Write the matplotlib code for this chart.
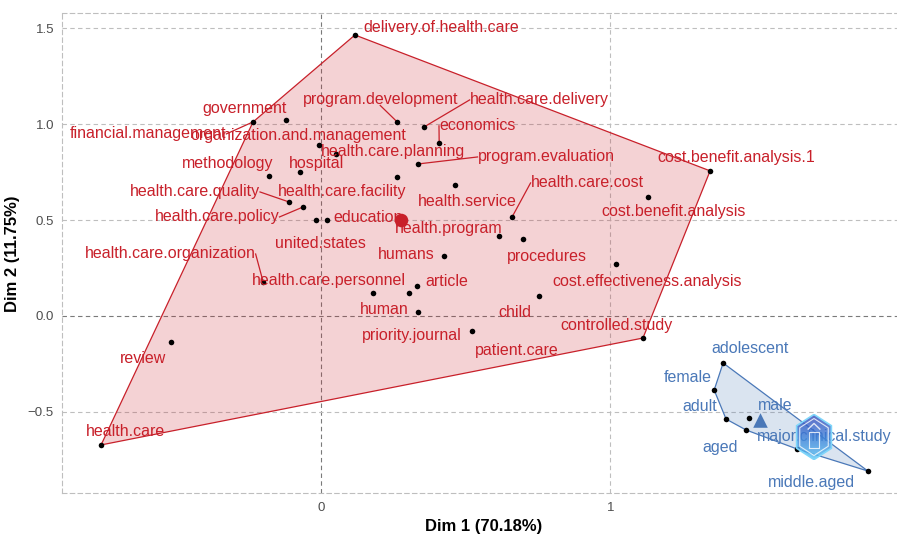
import numpy as np
import matplotlib
matplotlib.use("Agg")
import matplotlib.pyplot as plt
from matplotlib.patches import Polygon
from matplotlib.lines import Line2D
from matplotlib.colors import LinearSegmentedColormap

plt.rcParams['font.family'] = ['Liberation Sans', 'DejaVu Sans']

# ---- data: MCA word map, two clusters ----
red_words = [
    "delivery.of.health.care", "financial.management", "government",
    "organization.and.management", "health.care.planning", "program.development",
    "health.care.delivery", "economics", "program.evaluation", "methodology",
    "hospital", "health.care.facility", "health.service", "health.care.quality",
    "health.care.policy", "united.states", "education", "humans",
    "health.care.organization", "health.care.personnel", "article", "human",
    "priority.journal", "patient.care", "child", "health.care.cost",
    "health.program", "procedures", "cost.effectiveness.analysis",
    "cost.benefit.analysis", "cost.benefit.analysis.1", "controlled.study",
    "review", "health.care",
]
red_x = [0.118, -0.234, -0.120, -0.006, 0.053, 0.264, 0.357, 0.409, 0.336, -0.179,
         -0.072, 0.264, 0.465, -0.110, -0.061, -0.016, 0.022, 0.426,
         -0.199, 0.181, 0.333, 0.305, 0.336, 0.523, 0.754, 0.661,
         0.616, 0.699, 1.020, 1.131, 1.345, 1.113, -0.517, -0.759]
red_y = [1.464, 1.011, 1.021, 0.891, 0.844, 1.011, 0.985, 0.902, 0.792, 0.729,
         0.750, 0.724, 0.683, 0.594, 0.568, 0.500, 0.500, 0.313,
         0.177, 0.120, 0.156, 0.120, 0.021, -0.078, 0.104, 0.516,
         0.417, 0.401, 0.271, 0.620, 0.756, -0.115, -0.135, -0.672]

blue_words = ["adolescent", "female", "adult", "male", "aged",
              "major.clinical.study", "middle.aged"]
blue_x = [1.390, 1.359, 1.400, 1.479, 1.469, 1.645, 1.890]
blue_y = [-0.245, -0.386, -0.537, -0.532, -0.594, -0.693, -0.808]

x_ticks = [0, 1, 2]
y_ticks = [-0.5, 0.0, 0.5, 1.0, 1.5]
y_tick_labels = ["\u22120.5", "0.0", "0.5", "1.0", "1.5"]
x_title = "Dim 1 (70.18%)"
y_title = "Dim 2 (11.75%)"

# ---- label placement (pixel offsets of label centres from their points) ----
red_offsets = {
    "delivery.of.health.care": (86, 7), "financial.management": (-105, -12),
    "government": (-41, 12), "organization.and.management": (-21, 9),
    "health.care.planning": (57, 2), "program.development": (-17, 22),
    "health.care.delivery": (115, 27), "economics": (38, 17),
    "program.evaluation": (128, 7), "methodology": (-41, 13),
    "hospital": (17, 9), "health.care.facility": (-55, -14),
    "health.service": (12, -17), "health.care.quality": (-94, 10),
    "health.care.policy": (-86, -10), "united.states": (4, -23),
    "education": (41, 3), "humans": (-38, 1),
    "health.care.organization": (-93, 28), "health.care.personnel": (-44, 12),
    "article": (30, 5), "human": (-25, -17), "priority.journal": (-6, -24),
    "patient.care": (45, -20), "child": (-24, -16), "health.care.cost": (75, 34),
    "health.program": (-50, 7), "procedures": (24, -17),
    "cost.effectiveness.analysis": (31, -18), "cost.benefit.analysis": (25, -15),
    "cost.benefit.analysis.1": (26, 13), "controlled.study": (-26, 13),
    "review": (-28, -17), "health.care": (24, 13),
}
blue_offsets = {
    "adolescent": (27, 14), "female": (-26, 13), "adult": (-26, 13),
    "male": (26, 13), "aged": (-26, -18), "major.clinical.study": (27, 12),
    "middle.aged": (-56, -11),
}
with_segment = {"financial.management", "program.development", "health.care.delivery",
                "economics", "program.evaluation", "health.care.quality",
                "health.care.policy", "health.care.organization", "health.care.cost"}

RED = "#C8202A"
BLUE = "#4A78B8"
GRID = "#BEBEBE"
ZERO = "#7A7A7A"
LABEL_SIZE = 11.5


def convex_hull(xs, ys):
    pts = sorted(set(zip(xs, ys)))

    def cross(o, a, b):
        return (a[0] - o[0]) * (b[1] - o[1]) - (a[1] - o[1]) * (b[0] - o[0])

    lower, upper = [], []
    for p in pts:
        while len(lower) >= 2 and cross(lower[-2], lower[-1], p) <= 0:
            lower.pop()
        lower.append(p)
    for p in reversed(pts):
        while len(upper) >= 2 and cross(upper[-2], upper[-1], p) <= 0:
            upper.pop()
        upper.append(p)
    return lower[:-1] + upper[:-1]


W, H = 897, 536
fig = plt.figure(figsize=(W / 100, H / 100), dpi=100)
left_px, right_px, top_px, bottom_px = 62.3, 905.5, 13.3, 493.3
ax = fig.add_axes([left_px / W, 1 - bottom_px / H,
                   (right_px - left_px) / W, (bottom_px - top_px) / H])
ax.set_xlim(-0.893, 2.02)
ax.set_ylim(-0.924, 1.577)

# panel border + grid
for s in ax.spines.values():
    s.set_linestyle((0, (4, 3)))
    s.set_color(GRID)
    s.set_linewidth(0.8)
for xv in x_ticks:
    ax.axvline(xv, color=ZERO if xv == 0 else GRID, lw=0.8, ls=(0, (4, 3)), zorder=0)
for yv in y_ticks:
    ax.axhline(yv, color=ZERO if yv == 0 else GRID, lw=0.8, ls=(0, (4, 3)), zorder=0)

ax.set_xticks(x_ticks)
ax.set_xticklabels([str(v) for v in x_ticks])
ax.set_yticks(y_ticks)
ax.set_yticklabels(y_tick_labels)
ax.tick_params(length=0, labelsize=9.5, labelcolor="#4D4D4D", pad=6)
ax.set_xlabel(x_title, fontsize=12, fontweight="bold", labelpad=4)
ax.set_ylabel(y_title, fontsize=12, fontweight="bold", labelpad=6)

# cluster hulls
for xs, ys, col in [(red_x, red_y, RED), (blue_x, blue_y, BLUE)]:
    hull = convex_hull(xs, ys)
    ax.add_patch(Polygon(hull, closed=True, facecolor=col, alpha=0.2,
                         edgecolor="none", zorder=1))
    ax.add_patch(Polygon(hull, closed=True, facecolor="none",
                         edgecolor=col, lw=0.9, zorder=2))

# word points
ax.scatter(red_x + blue_x, red_y + blue_y, s=16, color="black", zorder=4, linewidths=0)

# cluster centroids
ax.scatter([np.mean(red_x)], [np.mean(red_y)], s=95, color=RED, zorder=5, linewidths=0)
ax.scatter([np.mean(blue_x)], [np.mean(blue_y)], s=110, marker="^", color=BLUE,
           zorder=5, linewidths=0)

# labels
texts = []
for words, xs, ys, offs, col in [(red_words, red_x, red_y, red_offsets, RED),
                                 (blue_words, blue_x, blue_y, blue_offsets, BLUE)]:
    for w, x, y in zip(words, xs, ys):
        t = ax.annotate(w, (x, y), xytext=offs[w], textcoords="offset pixels",
                        ha="center", va="center", fontsize=LABEL_SIZE, color=col,
                        zorder=6)
        texts.append((w, x, y, col, t))

# connector segments: from the point to the closest edge midpoint of its label
fig.canvas.draw()
renderer = fig.canvas.get_renderer()
inv = ax.transData.inverted()
for w, x, y, col, t in texts:
    if w not in with_segment:
        continue
    bb = t.get_window_extent(renderer)
    px, py = ax.transData.transform((x, y))
    mx, my = (bb.x0 + bb.x1) / 2, (bb.y0 + bb.y1) / 2
    anchors = [(bb.x0, my), (bb.x1, my), (mx, bb.y0 + 2), (mx, bb.y1 - 2)]
    nx, ny = min(anchors, key=lambda a: (a[0] - px) ** 2 + (a[1] - py) ** 2)
    (dx0, dy0), (dx1, dy1) = inv.transform([(px, py), (nx, ny)])
    ax.add_line(Line2D([dx0, dx1], [dy0, dy1], color=col, lw=0.9, zorder=3))

# small hexagonal badge overlay
cx, cy, hw, hh = 814, 437, 42, 46
lax = fig.add_axes([(cx - hw / 2) / W, 1 - (cy + hh / 2) / H, hw / W, hh / H])
lax.set_xlim(-0.9, 0.9)
lax.set_ylim(-1.02, 1.02)
lax.axis("off")
ang = np.deg2rad(90 + 60 * np.arange(6))
hexv = np.column_stack([0.86 * np.cos(ang), np.sin(ang)])
grad = LinearSegmentedColormap.from_list("badge", ["#3547B8", "#3D7FD8", "#5CC8F5"])
im = lax.imshow(np.linspace(0, 1, 100).reshape(-1, 1), cmap=grad, aspect="auto",
                extent=[-0.9, 0.9, -1.0, 1.0], alpha=0.8, zorder=1)
hexpatch = Polygon(hexv, closed=True, facecolor="none", edgecolor="#7FD6FA", lw=1.2,
                   zorder=3)
lax.add_patch(hexpatch)
im.set_clip_path(hexpatch)
lax.add_patch(Polygon(hexv * 0.82, closed=True, facecolor="none",
                      edgecolor="white", lw=0.8, alpha=0.8, zorder=4))
lax.plot([-0.25, 0.0, 0.25], [0.35, 0.6, 0.35], color="white", lw=1.0, alpha=0.8)
lax.plot([-0.2, 0.2, 0.2, -0.2, -0.2], [-0.5, -0.5, 0.2, 0.2, -0.5],
         color="white", lw=0.8, alpha=0.8)

fig.savefig("out.png", dpi=100)
